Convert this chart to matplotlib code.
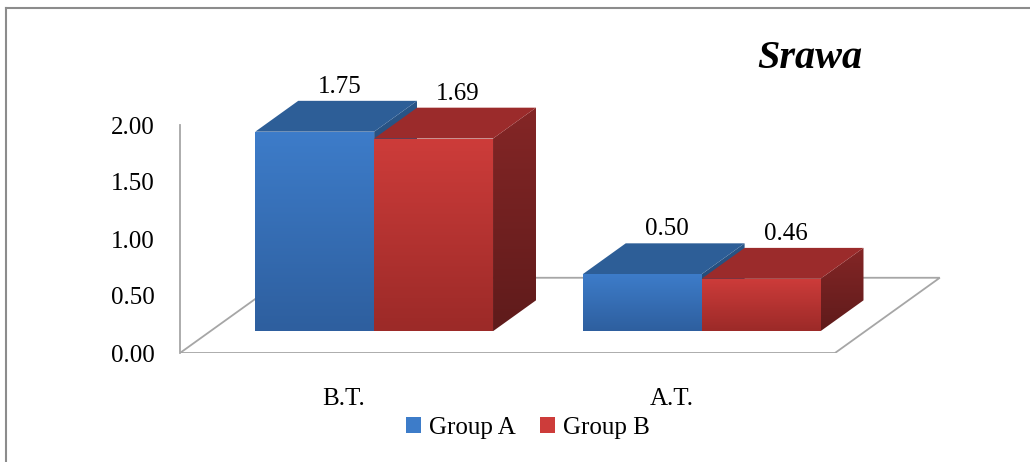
import numpy as np
import matplotlib
matplotlib.use('Agg')
import matplotlib.pyplot as plt
from matplotlib.patches import Polygon, Patch
from matplotlib.lines import Line2D
from matplotlib.colors import LinearSegmentedColormap

categories = ['B.T.', 'A.T.']
group_a = [1.75, 0.50]
group_b = [1.69, 0.46]
series_names = ['Group A', 'Group B']
y_ticks = [0.0, 0.5, 1.0, 1.5, 2.0]
title = 'Srawa'

plt.rcParams['font.family'] = ['Liberation Serif', 'DejaVu Serif']

# colours: front top, front bottom, top face, side top, side bottom
blue = ('#3d7cc9', '#2e5f9f', '#2d5e97', '#2a5688', '#213f66')
red = ('#cd3c3a', '#9c2a28', '#9b2b2b', '#842626', '#5f1b1b')


def shaded(ax, verts, c_top, c_bot, z):
    # vertical gradient clipped to a polygon
    poly = Polygon(verts, closed=True, facecolor='none', edgecolor='none', zorder=z)
    ax.add_patch(poly)
    xs = [v[0] for v in verts]
    ys = [v[1] for v in verts]
    grad = np.linspace(0, 1, 64).reshape(-1, 1)
    cmap = LinearSegmentedColormap.from_list('g', [c_bot, c_top])
    im = ax.imshow(grad, extent=[min(xs), max(xs), min(ys), max(ys)], origin='lower',
                   cmap=cmap, aspect='auto', zorder=z, interpolation='bilinear')
    im.set_clip_path(poly)


def bar3d(ax, x, w, v, cols, z):
    dx, dy = depth
    fx0, fy0 = f_front * dx, f_front * dy
    fx1, fy1 = f_back * dx, f_back * dy
    front = [(x + fx0, fy0), (x + w + fx0, fy0), (x + w + fx0, v + fy0), (x + fx0, v + fy0)]
    top = [(x + fx0, v + fy0), (x + w + fx0, v + fy0), (x + w + fx1, v + fy1), (x + fx1, v + fy1)]
    side = [(x + w + fx0, fy0), (x + w + fx1, fy1), (x + w + fx1, v + fy1), (x + w + fx0, v + fy0)]
    shaded(ax, side, cols[3], cols[4], z)
    ax.add_patch(Polygon(top, closed=True, facecolor=cols[2], edgecolor='none', zorder=z))
    shaded(ax, front, cols[0], cols[1], z + 0.1)


fig = plt.figure(figsize=(10.3, 4.62), dpi=100)
ax = fig.add_axes([180 / 1030, 1 - 353 / 462, 800 / 1030, 333 / 462])

depth = (0.32, 0.66)
f_front, f_back = 0.29, 0.70
bar_w = 0.363

n = len(categories)
x0, x1 = -0.5, n - 0.5
floor = Polygon([(x0, 0), (x1, 0), (x1 + depth[0], depth[1]), (x0 + depth[0], depth[1])],
                closed=True, facecolor='white', edgecolor='#a6a6a6', lw=1.3, zorder=1)
ax.add_patch(floor)

z = 2
for i in range(n):
    bar3d(ax, i - bar_w, bar_w, group_a[i], blue, z)
    bar3d(ax, i, bar_w, group_b[i], red, z + 1)
    z += 2
    for xs, v in [(i - bar_w / 2, group_a[i]), (i + bar_w / 2, group_b[i])]:
        ax.text(xs + f_front * depth[0] + 0.075, v + f_back * depth[1] + 0.07, f'{v:.2f}',
                ha='center', va='baseline', fontsize=18, zorder=10)

ax.set_xlim(-0.5, -0.5 + 800 / 327.5)
ax.set_ylim(0, 333 / 114)

ax.set_yticks(y_ticks)
ax.set_yticklabels([f'{t:.2f}' for t in y_ticks])
ax.set_xticks(range(n))
ax.set_xticklabels(categories)
ax.tick_params(axis='y', length=0, pad=18, labelsize=18)
ax.tick_params(axis='x', length=0, pad=25, labelsize=18)
for s in ['top', 'right', 'bottom']:
    ax.spines[s].set_visible(False)
ax.spines['left'].set_bounds(0, 2)
ax.spines['left'].set_color('#a6a6a6')
ax.spines['left'].set_linewidth(1.3)
ax.patch.set_alpha(0)

fig.text(810 / 1030, 1 - 58 / 462, title, ha='center', va='center',
         fontsize=29, fontweight='bold', fontstyle='italic')

handles = [Patch(facecolor=blue[0]), Patch(facecolor=red[0])]
fig.legend(handles, series_names, loc='center', bbox_to_anchor=(528 / 1030, 1 - 428 / 462),
           ncol=2, frameon=False, fontsize=18, handlelength=0.6, handleheight=0.6,
           handletextpad=0.3, columnspacing=1.0)

# outer frame
fig.add_artist(Line2D([6 / 1030, 6 / 1030], [0, 1 - 8 / 462], transform=fig.transFigure,
                      color='#8c8c8c', lw=1.5))
fig.add_artist(Line2D([6 / 1030, 1], [1 - 8 / 462, 1 - 8 / 462], transform=fig.transFigure,
                      color='#8c8c8c', lw=1.5))

fig.savefig('out.png', dpi=100)
